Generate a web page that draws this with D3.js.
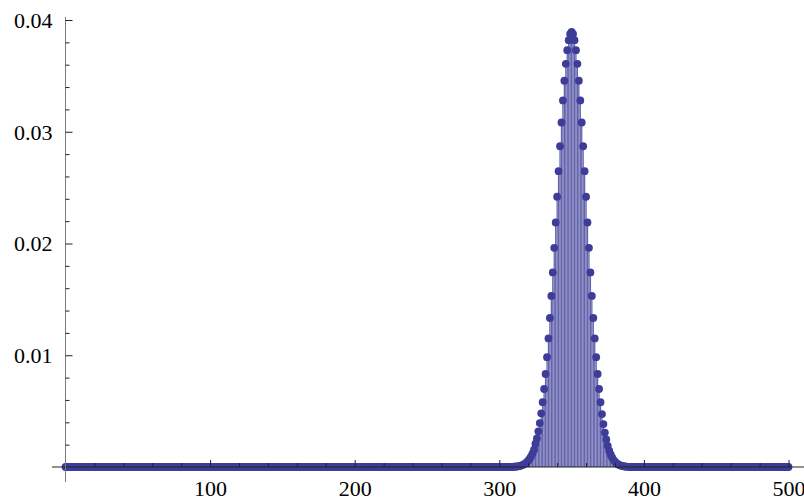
<!DOCTYPE html>
<html>
<head>
<meta charset="utf-8">
<script src="https://cdn.jsdelivr.net/npm/d3@7"></script>
<style>
  html, body { margin: 0; padding: 0; background: #fff; }
  svg { display: block; }
</style>
</head>
<body>
<svg id="chart" width="804" height="502"></svg>
<script>
// Probability of k successes, k = 0 … 500 (one value per k)
const probabilities = [
  // k = 0 … 309
  0,0,0,0,0,0,0,0,0,0, 0,0,0,0,0,0,0,0,0,0, 0,0,0,0,0,0,0,0,0,0,
  0,0,0,0,0,0,0,0,0,0, 0,0,0,0,0,0,0,0,0,0, 0,0,0,0,0,0,0,0,0,0,
  0,0,0,0,0,0,0,0,0,0, 0,0,0,0,0,0,0,0,0,0, 0,0,0,0,0,0,0,0,0,0,
  0,0,0,0,0,0,0,0,0,0, 0,0,0,0,0,0,0,0,0,0, 0,0,0,0,0,0,0,0,0,0,
  0,0,0,0,0,0,0,0,0,0, 0,0,0,0,0,0,0,0,0,0, 0,0,0,0,0,0,0,0,0,0,
  0,0,0,0,0,0,0,0,0,0, 0,0,0,0,0,0,0,0,0,0, 0,0,0,0,0,0,0,0,0,0,
  0,0,0,0,0,0,0,0,0,0, 0,0,0,0,0,0,0,0,0,0, 0,0,0,0,0,0,0,0,0,0,
  0,0,0,0,0,0,0,0,0,0, 0,0,0,0,0,0,0,0,0,0, 0,0,0,0,0,0,0,0,0,0,
  0,0,0,0,0,0,0,0,0,0, 0,0,0,0,0,0,0,0,0,0, 0,0,0,0,0,0,0,0,0,0,
  0,0,0,0,0,0,0,0,0,0, 0,0,0,0,0,0,0,0,0,0, 0,0,0,0,0,0,0,0,0,0,
  0,0,0,0,0,0,0,0,0,0,
  // k = 310 … 349
  0.000021, 0.000031, 0.000044, 0.000062, 0.000087, 0.000124, 0.000172, 0.000236, 0.000321, 0.000430,
  0.000568, 0.000742, 0.000957, 0.001222, 0.001545, 0.002079, 0.002556, 0.003190, 0.003930, 0.004800,
  0.005795, 0.006978, 0.008322, 0.009832, 0.011504, 0.013335, 0.015310, 0.017411, 0.019610, 0.021881,
  0.024183, 0.026472, 0.028704, 0.030829, 0.032799, 0.034562, 0.036076, 0.037299, 0.038197, 0.038747,
  // k = 350
  0.038932,
  // k = 351 … 390
  0.038747, 0.038197, 0.037299, 0.036076, 0.034562, 0.032799, 0.030829, 0.028704, 0.026472, 0.024183,
  0.021881, 0.019610, 0.017411, 0.015310, 0.013335, 0.011504, 0.009832, 0.008322, 0.006978, 0.005795,
  0.004740, 0.003840, 0.003080, 0.002460, 0.001893, 0.001460, 0.001120, 0.000850, 0.000640, 0.000470,
  0.000350, 0.000255, 0.000184, 0.000131, 0.000092, 0.000064, 0.000044, 0.000030, 0.000020, 0.000013,
  // k = 391 … 500
  0,0,0,0,0,0,0,0,0,0, 0,0,0,0,0,0,0,0,0,0, 0,0,0,0,0,0,0,0,0,0,
  0,0,0,0,0,0,0,0,0,0, 0,0,0,0,0,0,0,0,0,0, 0,0,0,0,0,0,0,0,0,0,
  0,0,0,0,0,0,0,0,0,0, 0,0,0,0,0,0,0,0,0,0, 0,0,0,0,0,0,0,0,0,0,
  0,0,0,0,0,0,0,0,0,0, 0,0,0,0,0,0,0,0,0,0
];

const xMajorTicks = [100, 200, 300, 400, 500];
const xMinorTicks = [20, 40, 60, 80, 120, 140, 160, 180, 220, 240, 260, 280,
                     320, 340, 360, 380, 420, 440, 460, 480];
const yMajorTicks = [0.01, 0.02, 0.03, 0.04];
const yMinorTicks = [0.002, 0.004, 0.006, 0.008, 0.012, 0.014, 0.016, 0.018,
                     0.022, 0.024, 0.026, 0.028, 0.032, 0.034, 0.036, 0.038];

const pointColor = "#3d3d99";
const labelFont = "'Liberation Serif', 'Times New Roman', serif";

const svg = d3.select("#chart");

const x = d3.scaleLinear().domain([0, 500]).range([65.5, 788.5]);
const y = d3.scaleLinear().domain([0, 0.04]).range([467, 20]);

const points = probabilities.map((p, k) => ({ k, p }));

// Filling from the axis up to each point
svg.append("g")
  .selectAll("line")
  .data(points.filter(d => d.p > 0))
  .join("line")
  .attr("x1", d => x(d.k)).attr("x2", d => x(d.k))
  .attr("y1", y(0)).attr("y2", d => y(d.p))
  .attr("stroke", pointColor)
  .attr("stroke-opacity", 0.8)
  .attr("stroke-width", 1.3);

// Points
svg.append("g")
  .selectAll("circle")
  .data(points)
  .join("circle")
  .attr("cx", d => x(d.k))
  .attr("cy", d => y(d.p))
  .attr("r", 3.9)
  .attr("fill", pointColor);

// Axes
svg.append("line")
  .attr("x1", 52).attr("x2", 804)
  .attr("y1", y(0)).attr("y2", y(0))
  .attr("stroke", "#222").attr("stroke-width", 1);
svg.append("line")
  .attr("x1", x(0)).attr("x2", x(0))
  .attr("y1", 17).attr("y2", 482)
  .attr("stroke", "#7a7a7a").attr("stroke-width", 1);

function styleLabels(sel) {
  sel.style("font-family", labelFont).style("font-size", "22px").attr("fill", "#000");
}

const xAxis = d3.axisBottom(x).tickValues(xMajorTicks).tickSize(-7).tickFormat(d3.format("d"));
const gx = svg.append("g").attr("transform", `translate(0,${y(0)})`).call(xAxis);
gx.select(".domain").remove();
gx.selectAll(".tick line").attr("stroke", "#222");
gx.selectAll(".tick text").attr("y", 13).attr("dy", "0.71em").call(styleLabels);

const xMinorAxis = d3.axisBottom(x).tickValues(xMinorTicks).tickSize(-4).tickFormat("");
const gxm = svg.append("g").attr("transform", `translate(0,${y(0)})`).call(xMinorAxis);
gxm.select(".domain").remove();
gxm.selectAll(".tick line").attr("stroke", "#222");

const yAxis = d3.axisLeft(y).tickValues(yMajorTicks).tickSize(-7).tickFormat(d3.format(".2f"));
const gy = svg.append("g").attr("transform", `translate(${x(0)},0)`).call(yAxis);
gy.select(".domain").remove();
gy.selectAll(".tick line").attr("stroke", "#222");
gy.selectAll(".tick text").attr("x", -13).attr("dy", "0.34em").call(styleLabels);

const yMinorAxis = d3.axisLeft(y).tickValues(yMinorTicks).tickSize(-4).tickFormat("");
const gym = svg.append("g").attr("transform", `translate(${x(0)},0)`).call(yMinorAxis);
gym.select(".domain").remove();
gym.selectAll(".tick line").attr("stroke", "#222");
</script>
</body>
</html>
